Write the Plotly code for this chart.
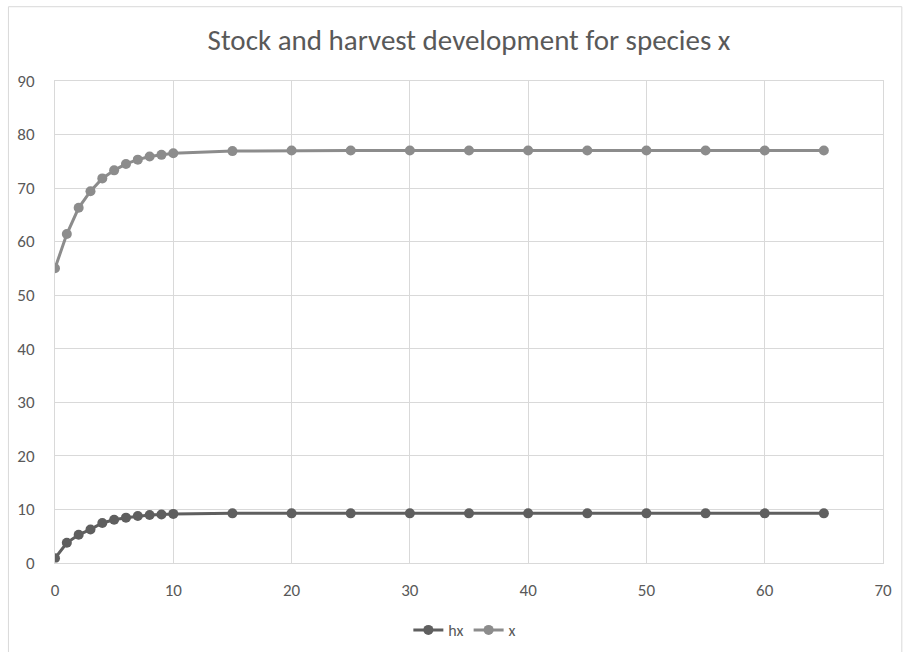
import plotly.graph_objects as go

t = [0, 1, 2, 3, 4, 5, 6, 7, 8, 9, 10, 15, 20, 25, 30, 35, 40, 45, 50, 55, 60, 65]
hx = [0.8, 3.7, 5.2, 6.2, 7.4, 8.0, 8.4, 8.7, 8.9, 9.0, 9.1, 9.2, 9.2, 9.2, 9.2, 9.2, 9.2, 9.2, 9.2, 9.2, 9.2, 9.2]
x = [55.0, 61.4, 66.3, 69.4, 71.8, 73.3, 74.5, 75.3, 75.9, 76.2, 76.5, 76.9, 77.0, 77.0, 77.0, 77.0, 77.0, 77.0, 77.0, 77.0, 77.0, 77.0]
title_text = "Stock and harvest development for species x"

FONT = "Carlito, Liberation Sans Narrow, Open Sans, sans-serif"
GRID = "#d9d9d9"
TXT = "#595959"

fig = go.Figure()
fig.add_trace(go.Scatter(x=t, y=hx, name="hx", mode="lines+markers",
                         line=dict(color="#5f5f5f", width=3),
                         marker=dict(color="#5f5f5f", size=10)))
fig.add_trace(go.Scatter(x=t, y=x, name="x", mode="lines+markers",
                         line=dict(color="#8c8c8c", width=3),
                         marker=dict(color="#8c8c8c", size=10)))

fig.update_layout(
    width=904, height=652,
    margin=dict(l=55, r=13, t=81, b=88),
    paper_bgcolor="white", plot_bgcolor="white",
    font=dict(family=FONT, size=17, color=TXT),
    title=dict(text=title_text, x=0.5, xref="paper", xanchor="center",
               y=1 - 40 / 652, yref="container", yanchor="middle",
               font=dict(family=FONT, size=29, color=TXT)),
    showlegend=True,
    legend=dict(orientation="h", x=0.495, xanchor="center", xref="paper",
                y=1 - 630 / 652, yref="container", yanchor="middle",
                font=dict(family=FONT, size=16, color=TXT),
                itemwidth=30, tracegroupgap=0),
    shapes=[dict(type="rect", xref="paper", yref="paper",
                 x0=(8 - 55) / 836, x1=(910 - 55) / 836,
                 y0=(564 - 660) / 483, y1=(564 - 6.5) / 483,
                 line=dict(color="#d9d9d9", width=1), layer="below")],
)
fig.update_xaxes(range=[0, 70], dtick=10, showgrid=True, gridcolor=GRID, gridwidth=1,
                 showline=True, linecolor=GRID, linewidth=1, mirror=True,
                 zeroline=False, ticks="", ticklabelstandoff=12,
                 tickfont=dict(family=FONT, size=17, color=TXT))
fig.update_yaxes(range=[0, 90], dtick=10, showgrid=True, gridcolor=GRID, gridwidth=1,
                 showline=True, linecolor=GRID, linewidth=1, mirror=True,
                 zeroline=False, ticks="", ticklabelstandoff=16,
                 tickfont=dict(family=FONT, size=17, color=TXT))

fig.write_html("out.html")
